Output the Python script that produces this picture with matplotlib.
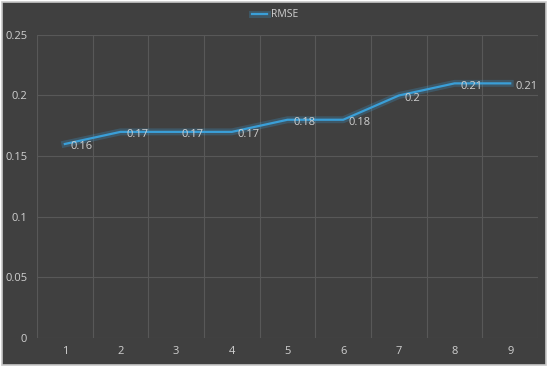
import matplotlib.pyplot as plt
import matplotlib.patheffects as pe
from matplotlib.patches import Rectangle

epochs = [1, 2, 3, 4, 5, 6, 7, 8, 9]
rmse = [0.16, 0.17, 0.17, 0.17, 0.18, 0.18, 0.20, 0.21, 0.21]
rmse_labels = ["0.16", "0.17", "0.17", "0.17", "0.18", "0.18", "0.2", "0.21", "0.21"]
yticks = [0, 0.05, 0.1, 0.15, 0.2, 0.25]
ytick_labels = ["0", "0.05", "0.1", "0.15", "0.2", "0.25"]

bg = "#404040"
txt = "#d0d0d0"
line_c = "#3a9fd8"

plt.rcParams['font.family'] = ['Open Sans', 'DejaVu Sans']

fig = plt.figure(figsize=(5.5, 3.67), dpi=100, facecolor="white")
# chart area frame
fig.patches.append(Rectangle((0.004, 0.006), 0.989, 0.988, transform=fig.transFigure,
                             facecolor=bg, edgecolor="#c8c8c8", linewidth=1.2, zorder=-10))

ax = fig.add_axes([0.0673, 0.079, 0.911, 0.826])
ax.set_facecolor(bg)
ax.patch.set_alpha(0)

glow = [pe.Stroke(linewidth=5, foreground=line_c, alpha=0.25), pe.Normal()]
ax.plot(epochs, rmse, color=line_c, linewidth=1.6, label="RMSE", path_effects=glow, zorder=3)

for x, y, s in zip(epochs, rmse, rmse_labels):
    ax.annotate(s, (x, y), xytext=(4, -2), textcoords="offset points",
                ha="left", va="center", color=txt, fontsize=8, zorder=4)

ax.set_xlim(0.5, 9.5)
ax.set_ylim(0, 0.25)
ax.set_xticks(epochs)
ax.set_yticks(yticks)
ax.set_yticklabels(ytick_labels)
ax.set_xticks([e + 0.5 for e in [0] + epochs], minor=True)
ax.grid(False)
ax.grid(True, axis="x", which="minor", color="#585858", linewidth=0.8)
ax.grid(True, axis="y", which="major", color="#585858", linewidth=0.8)
ax.tick_params(axis="both", which="both", length=0, colors=txt, labelsize=8)
ax.tick_params(axis="x", pad=6)
ax.tick_params(axis="y", pad=7)
for sp in ax.spines.values():
    sp.set_visible(False)

leg = fig.legend(loc="upper center", bbox_to_anchor=(0.5, 1.0), frameon=False,
                 fontsize=7.5, handlelength=1.4, handletextpad=0.4)
for t in leg.get_texts():
    t.set_color(txt)

fig.savefig("out.png", dpi=100, facecolor="white")
